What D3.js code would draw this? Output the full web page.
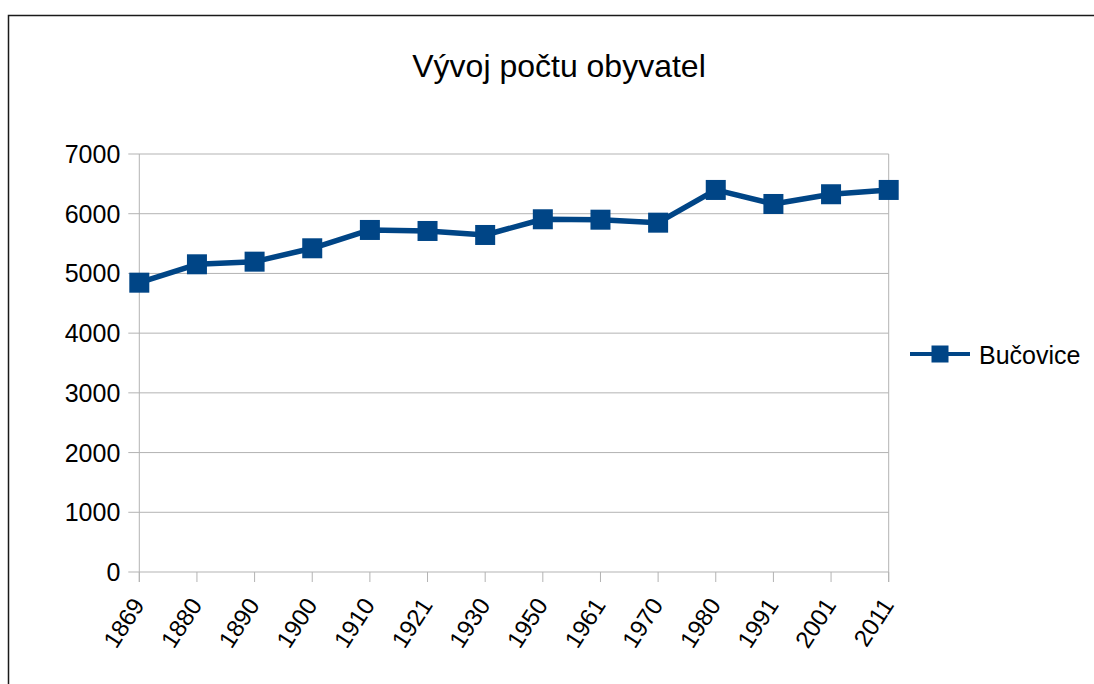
<!DOCTYPE html>
<html>
<head>
<meta charset="utf-8">
<script src="https://cdn.jsdelivr.net/npm/d3@7"></script>
<style>
  html, body { margin: 0; padding: 0; background: #fff; }
  svg { display: block; font-family: "Liberation Sans", Arial, sans-serif; }
</style>
</head>
<body>
<svg id="chart" width="1094" height="684"></svg>
<script>
const title = "Vývoj počtu obyvatel";
const seriesName = "Bučovice";
const years = ["1869","1880","1890","1900","1910","1921","1930","1950","1961","1970","1980","1991","2001","2011"];
const population = [4845, 5153, 5197, 5421, 5728, 5711, 5644, 5907, 5900, 5850, 6398, 6163, 6326, 6398];
const yTicks = [0, 1000, 2000, 3000, 4000, 5000, 6000, 7000];

(function () {
const color = "#004586";
const svg = d3.select("#chart");

// outer border
svg.append("rect").attr("x", 8.5).attr("y", 15.5).attr("width", 1100).attr("height", 700)
  .attr("fill", "#fff").attr("stroke", "#1a1a1a").attr("stroke-width", 1.5);

const pLeft = 139.3, pRight = 888.7, pTop = 154, pBottom = 572;
const x = d3.scalePoint().domain(years).range([pLeft, pRight]).padding(0);
const y = d3.scaleLinear().domain([0, 7000]).range([pBottom, pTop]);

// gridlines
svg.append("g").selectAll("line").data(yTicks).join("line")
  .attr("x1", pLeft - 11).attr("x2", pRight)
  .attr("y1", d => y(d)).attr("y2", d => y(d))
  .attr("stroke", "#b3b3b3").attr("stroke-width", 1);

// y axis line
svg.append("line").attr("x1", pLeft).attr("x2", pLeft).attr("y1", pTop).attr("y2", pBottom + 10)
  .attr("stroke", "#b3b3b3");
// right plot edge
svg.append("line").attr("x1", pRight).attr("x2", pRight).attr("y1", pTop).attr("y2", pBottom + 10)
  .attr("stroke", "#b3b3b3");

// y labels
svg.append("g").selectAll("text").data(yTicks).join("text")
  .attr("x", pLeft - 19).attr("y", d => y(d) + 9)
  .attr("text-anchor", "end").attr("font-size", 25).attr("fill", "#000")
  .text(d => d);

// x ticks
svg.append("g").selectAll("line").data(years).join("line")
  .attr("x1", d => x(d)).attr("x2", d => x(d))
  .attr("y1", pBottom).attr("y2", pBottom + 10)
  .attr("stroke", "#b3b3b3");

// x labels
svg.append("g").selectAll("text").data(years).join("text")
  .attr("transform", d => `translate(${x(d) + 6},${pBottom + 33}) rotate(-57)`)
  .attr("text-anchor", "end")
  .attr("font-size", 24).attr("fill", "#000")
  .text(d => d);

// line
const line = d3.line().x((d, i) => x(years[i])).y(d => y(d));
svg.append("path").datum(population).attr("d", line)
  .attr("fill", "none").attr("stroke", color).attr("stroke-width", 5.5)
  .attr("stroke-linejoin", "round");

// markers
const ms = 20;
svg.append("g").selectAll("rect").data(population).join("rect")
  .attr("x", (d, i) => x(years[i]) - ms / 2).attr("y", d => y(d) - ms / 2)
  .attr("width", ms).attr("height", ms).attr("fill", color);

// title
svg.append("text").attr("x", 559).attr("y", 77).attr("text-anchor", "middle")
  .attr("font-size", 32).attr("fill", "#000").text(title);

// legend
const ly = 354;
svg.append("line").attr("x1", 910).attr("x2", 970).attr("y1", ly).attr("y2", ly)
  .attr("stroke", color).attr("stroke-width", 4);
svg.append("rect").attr("x", 931.5).attr("y", ly - 8.5).attr("width", 17).attr("height", 17).attr("fill", color);
svg.append("text").attr("x", 979).attr("y", 364)
  .attr("font-size", 25).attr("fill", "#000").text(seriesName);
})();
</script>
</body>
</html>
